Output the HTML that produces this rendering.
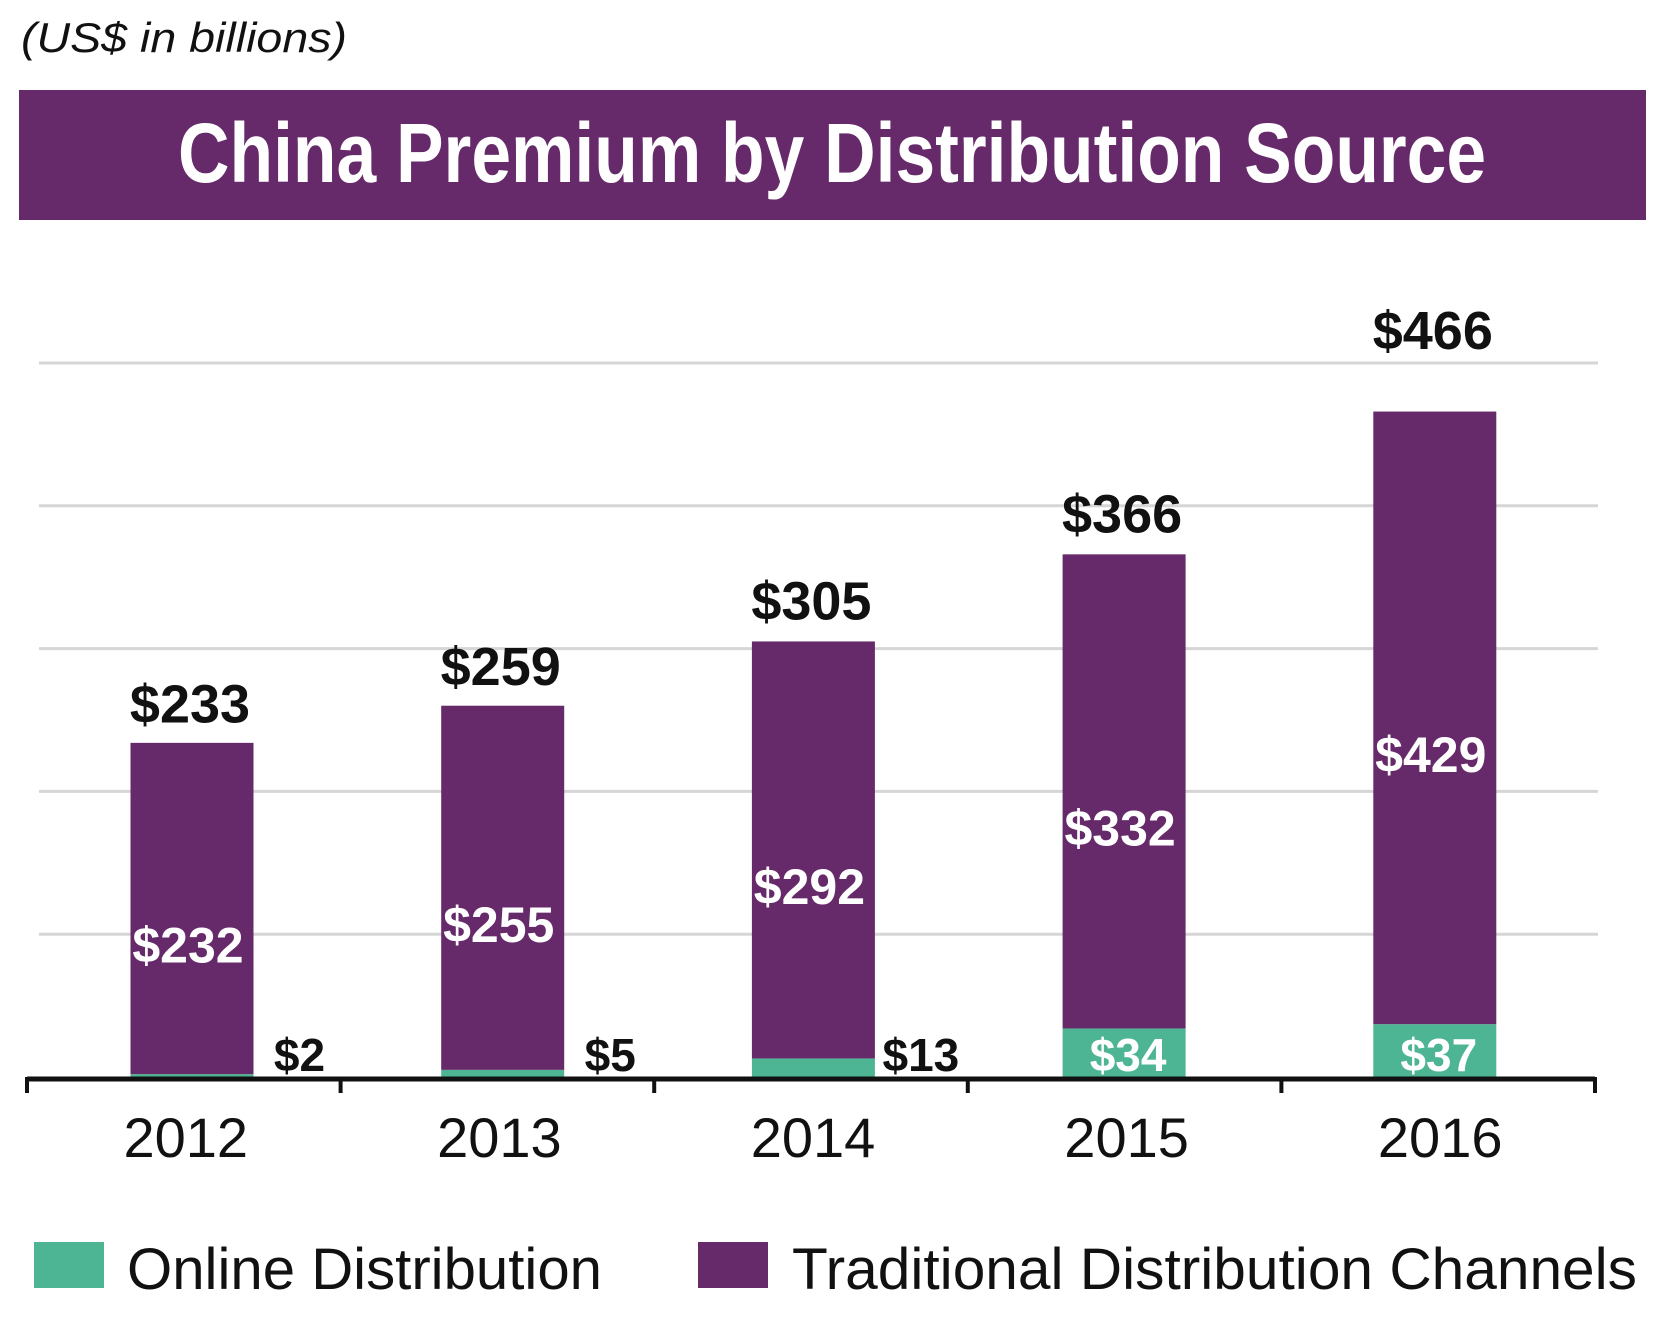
<!DOCTYPE html>
<html><head><meta charset="utf-8"><style>
html,body{margin:0;padding:0;background:#fff;}
svg{display:block;font-family:"Liberation Sans",Arial,sans-serif;}
</style></head><body>
<svg id="chart" width="1664" height="1328" viewBox="0 0 1664 1328">
<text x="21" y="52" font-size="42" font-style="italic" fill="#111" textLength="326" lengthAdjust="spacingAndGlyphs">(US$ in billions)</text>
<rect x="19" y="90" width="1627" height="130" fill="#66296A"/>
<text x="178" y="182" font-size="84" font-weight="bold" fill="#fff" textLength="1308" lengthAdjust="spacingAndGlyphs">China Premium by Distribution Source</text>
<g id="grid"></g><g id="bars"></g><g id="labels"></g>
<line x1="27" y1="1079" x2="1595" y2="1079" stroke="#111" stroke-width="5"/>
<g id="ticks"></g>
<rect x="34" y="1242" width="70" height="46" fill="#4DB594"/>
<text x="127" y="1289" font-size="58" fill="#111" textLength="475" lengthAdjust="spacingAndGlyphs">Online Distribution</text>
<rect x="698" y="1242" width="70" height="46" fill="#66296A"/>
<text x="792" y="1289" font-size="58" fill="#111" textLength="845" lengthAdjust="spacingAndGlyphs">Traditional Distribution Channels</text>
</svg>
<script>
const years = ["2012","2013","2014","2015","2016"];
const online = [2,5,13,34,37];
const traditional = [232,255,292,332,429];
const totals = [233,259,305,366,466];
const gridValues = [100,200,300,400,500];

const NS="http://www.w3.org/2000/svg";
const base=1077, scale=1.428, left=27, step=313.6, barW=123, barStart=192, barStep=310.7;
function y(v){return base - v*scale;}
function cx(i){return barStart + barStep*i;}
function mk(tag,attrs,parent,text){const e=document.createElementNS(NS,tag);for(const k in attrs)e.setAttribute(k,attrs[k]);if(text!==undefined)e.textContent=text;parent.appendChild(e);return e;}
const G=document.getElementById('grid'),B=document.getElementById('bars'),L=document.getElementById('labels'),T=document.getElementById('ticks');
const topGrid=Math.max(...gridValues);
gridValues.forEach(v=>{
  const l=mk('line',{x1:39,x2:1598,y1:y(v),y2:y(v),stroke:'#d6d6d6','stroke-width':3},G);
  
  
});
for(let i=0;i<=years.length;i++){
  const t=mk('line',{x1:left+step*i,x2:left+step*i,y1:1077,y2:1093,stroke:'#111','stroke-width':4},T);
  
  
}
years.forEach((yr,i)=>{
  const c=cx(i), x=c-barW/2;
  const yo=y(online[i]), yt=y(online[i]+traditional[i]);
  const r1=mk('rect',{x:x,y:yo,width:barW,height:base-yo,fill:'#4DB594'},B);
  
  
  const r2=mk('rect',{x:x,y:yt,width:barW,height:yo-yt,fill:'#66296A'},B);
  
  
  let ty=y(totals[i])-22;
  if(ty>y(topGrid)-45 && ty<y(topGrid)+50) ty=y(topGrid)-14;
  const tl=mk('text',{x:c-2,y:ty,'font-size':54,'font-weight':'bold','text-anchor':'middle',fill:'#111'},L,'$'+totals[i]);
  
  
  const il=mk('text',{x:c-4,y:(yo+yt)/2+54,'font-size':50,'font-weight':'bold','text-anchor':'middle',fill:'#fff'},L,'$'+traditional[i]);
  
  
  const inside=online[i]>=25;
  const ol=mk('text',{x:inside?c+4:c+barW/2+46,y:1071,'font-size':46,'font-weight':'bold','text-anchor':'middle',fill:inside?'#fff':'#111'},L,'$'+online[i]);
  
  
  const yl=mk('text',{x:left+step*(i+0.5)+2,y:1157,'font-size':56,'text-anchor':'middle',fill:'#111'},L,yr);
  
  
});
</script>
</body></html>
